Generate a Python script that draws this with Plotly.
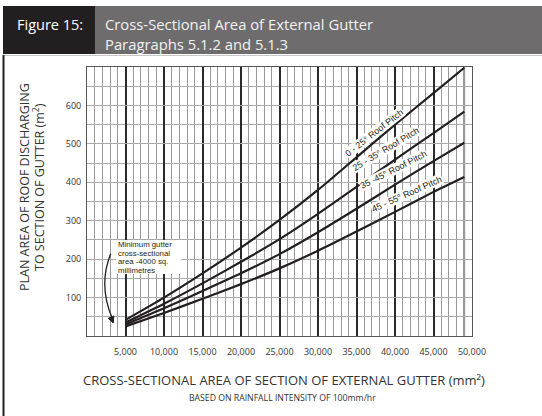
import plotly.graph_objects as go

# ---- data ----
gutter_area = [5000, 10000, 15000, 20000, 25000, 30000, 35000, 40000, 45000, 49000]
pitch_0_25 = [42, 100, 163, 230, 302, 380, 465, 550, 632, 698]
pitch_25_35 = [35, 84, 137, 193, 252, 318, 388, 459, 528, 584]
pitch_35_45 = [30, 72, 117, 163, 213, 270, 331, 394, 455, 503]
pitch_45_55 = [25, 60, 97, 135, 176, 222, 272, 323, 375, 414]
series_names = ["0 - 25° Roof Pitch", "25 - 35° Roof Pitch", "35 -45° Roof Pitch", "45 - 55° Roof Pitch"]
x_tick_vals = [5000, 10000, 15000, 20000, 25000, 30000, 35000, 40000, 45000, 50000]
y_tick_vals = [100, 200, 300, 400, 500, 600]
note_lines = ["Minimum gutter", "cross-sectional", "area -4000 sq.", "millimetres"]

W, H = 542, 416
L, R, T, B = 87, 472, 67, 336  # plot area in pixels


def px(xp):
    return (xp - L) / (R - L)


def py(yp):
    return (B - yp) / (B - T)


INK = "#231f20"
fig = go.Figure()
for name, vals in zip(series_names, [pitch_0_25, pitch_25_35, pitch_35_45, pitch_45_55]):
    fig.add_trace(go.Scatter(x=gutter_area, y=vals, mode="lines", name=name,
                             line=dict(color=INK, width=2.2, shape="spline", smoothing=0.6),
                             showlegend=False, hoverinfo="x+y+name"))

annotations = []
shapes = []

# header band
shapes.append(dict(type="rect", xref="paper", yref="paper", x0=px(3), x1=px(95), y0=py(54), y1=py(6),
                   fillcolor=INK, line=dict(width=0), layer="above"))
shapes.append(dict(type="rect", xref="paper", yref="paper", x0=px(95), x1=px(542), y0=py(54), y1=py(6),
                   fillcolor="#6f6c6d", line=dict(width=0), layer="above"))
shapes.append(dict(type="line", xref="paper", yref="paper", x0=px(3), x1=px(542), y0=py(55.5), y1=py(55.5),
                   line=dict(color="#c8c8c8", width=1)))
# left frame line
shapes.append(dict(type="line", xref="paper", yref="paper", x0=px(3.5), x1=px(3.5), y0=py(55), y1=py(416),
                   line=dict(color=INK, width=2)))
# dark vertical line where curves end
shapes.append(dict(type="line", xref="x", yref="paper", x0=49000, x1=49000, y0=0, y1=1,
                   line=dict(color="#333333", width=1.6), layer="below"))
# white box behind note
shapes.append(dict(type="rect", xref="paper", yref="paper", x0=px(116), x1=px(181), y0=py(274), y1=py(240),
                   fillcolor="#ffffff", line=dict(width=0), layer="above"))
# curved arrow for note
shapes.append(dict(type="path", xref="x", yref="y", path="M 3078,214 Q 1429,132 3300,45",
                   line=dict(color=INK, width=1.3)))
shapes.append(dict(type="path", xref="x", yref="y", path="M 3416,34 L 3481,52 L 2753,46 Z",
                   fillcolor=INK, line=dict(color=INK, width=1)))

annotations.append(dict(xref="paper", yref="paper", x=px(50), y=py(25), text="Figure 15:", showarrow=False,
                        font=dict(family="Open Sans", size=14.5, color="#ffffff"), xanchor="center", yanchor="middle"))
annotations.append(dict(xref="paper", yref="paper", x=px(103), y=py(24), text="Cross-Sectional Area of External Gutter",
                        showarrow=False, font=dict(family="Open Sans", size=14.8, color="#f2f2f2"),
                        xanchor="left", yanchor="middle"))
annotations.append(dict(xref="paper", yref="paper", x=px(103), y=py(44), text="Paragraphs 5.1.2 and 5.1.3",
                        showarrow=False, font=dict(family="Open Sans", size=14.8, color="#f2f2f2"),
                        xanchor="left", yanchor="middle"))

# axis titles
annotations.append(dict(xref="paper", yref="paper", x=px(24), y=py(187), text="PLAN AREA OF ROOF DISCHARGING",
                        showarrow=False, textangle=-90, font=dict(family="Open Sans", size=12.5, color="#333333"),
                        xanchor="center", yanchor="middle"))
annotations.append(dict(xref="paper", yref="paper", x=px(39), y=py(187), text="TO SECTION OF GUTTER (m<sup>2</sup>)",
                        showarrow=False, textangle=-90, font=dict(family="Open Sans", size=12.5, color="#333333"),
                        xanchor="center", yanchor="middle"))
annotations.append(dict(xref="paper", yref="paper", x=px(284), y=py(380),
                        text="CROSS-SECTIONAL AREA OF SECTION OF EXTERNAL GUTTER (mm²)",
                        showarrow=False, font=dict(family="Open Sans", size=13, color="#333333"),
                        xanchor="center", yanchor="middle"))
annotations.append(dict(xref="paper", yref="paper", x=px(282), y=py(398),
                        text="BASED ON RAINFALL INTENSITY OF 100mm/hr",
                        showarrow=False, font=dict(family="Open Sans", size=8.7, color="#333333"),
                        xanchor="center", yanchor="middle"))

# note text, one line each (tight leading)
for i, line in enumerate(note_lines):
    annotations.append(dict(xref="paper", yref="paper", x=px(117), y=py(244.5 + 8.6 * i), text=line,
                            showarrow=False, font=dict(family="Liberation Sans", size=7.8, color=INK),
                            xanchor="left", yanchor="middle", borderpad=0))

# curve labels
label_pos = [(374, 133, -38), (386, 149, -31), (393, 170, -27), (407, 194, -24)]
for name, (lx, ly, ang) in zip(series_names, label_pos):
    annotations.append(dict(xref="paper", yref="paper", x=px(lx), y=py(ly), text=name, showarrow=False,
                            textangle=ang, bgcolor="#ffffff", borderpad=0,
                            font=dict(family="Liberation Sans", size=9, color=INK),
                            xanchor="center", yanchor="middle"))

fig.update_layout(
    width=W, height=H,
    margin=dict(l=L, r=W - R, t=T, b=H - B, pad=0),
    paper_bgcolor="#ffffff", plot_bgcolor="#ffffff",
    shapes=shapes, annotations=annotations,
    xaxis=dict(range=[0, 50000], tickvals=x_tick_vals, tickformat=",d",
               showgrid=True, gridcolor="#2a2a2a", gridwidth=1.8,
               minor=dict(dtick=1000, tick0=0, showgrid=True, gridcolor="#999999", gridwidth=1),
               showline=True, linecolor="#555555", linewidth=1, mirror=True,
               ticks="", ticklabelstandoff=7, zeroline=False,
               tickfont=dict(family="Open Sans", size=9, color="#333333")),
    yaxis=dict(range=[0, 700], tickvals=y_tick_vals,
               showgrid=True, gridcolor="#aaaaaa", gridwidth=1,
               minor=dict(dtick=50, tick0=0, showgrid=True, gridcolor="#aaaaaa", gridwidth=1),
               showline=True, linecolor="#555555", linewidth=1, mirror=True,
               ticks="", ticklabelstandoff=3, zeroline=False,
               tickfont=dict(family="Open Sans", size=9, color="#333333")),
)

fig.write_html("out.html", config={"displayModeBar": False},
               post_script="document.body.style.margin='0';document.body.style.overflow='hidden';")
